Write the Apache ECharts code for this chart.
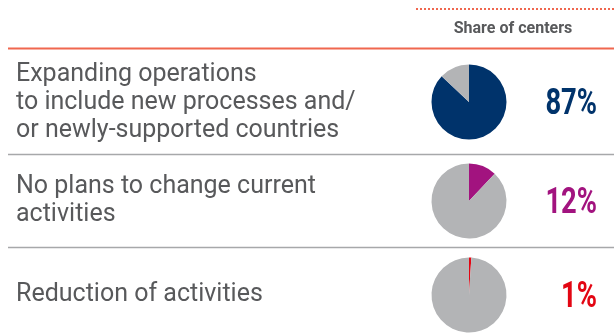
<!DOCTYPE html>
<html>
<head>
<meta charset="utf-8">
<script src="https://cdn.jsdelivr.net/npm/echarts@6/dist/echarts.min.js"></script>
<style>
  html, body { margin: 0; padding: 0; background: #fff; }
  #chart { width: 614px; height: 335px; }
</style>
</head>
<body>
<div id="chart"></div>
<script>
var header = 'Share of centers';
var labels = [
  'Expanding operations\nto include new processes and/\nor newly-supported countries',
  'No plans to change current\nactivities',
  'Reduction of activities'
];
var shares = [87, 12, 1];
var colors = ['#00336b', '#a2137f', '#e30613'];

var rest = '#b3b4b6';
var textColor = '#58595b';
var rowY = [102, 201, 295];
var textY = [103, 201, 295];
var sepY = [154, 247];

var graphic = [
  { type: 'line', shape: { x1: 416, y1: 9, x2: 614, y2: 9 },
    style: { stroke: '#f0674f', lineWidth: 2, lineDash: [2, 2] } },
  { type: 'text', x: 513, y: 29,
    style: { text: header, font: 'bold 16px Roboto', fill: textColor, align: 'center', verticalAlign: 'middle' } },
  { type: 'line', shape: { x1: 8, y1: 48.5, x2: 614, y2: 48.5 },
    style: { stroke: '#f0674f', lineWidth: 2 } }
];
sepY.forEach(function (y) {
  graphic.push({ type: 'line', shape: { x1: 8, y1: y + 0.5, x2: 614, y2: y + 0.5 },
    style: { stroke: '#a7a8aa', lineWidth: 1.5 } });
});
labels.forEach(function (t, i) {
  graphic.push({ type: 'text', x: 16, y: textY[i],
    style: { text: t, font: '25px Roboto', lineHeight: 28, fill: textColor, align: 'left', verticalAlign: 'middle' } });
  graphic.push({ type: 'text', x: 597, y: rowY[i] + 3, scaleX: 0.76,
    style: { text: shares[i] + '%', font: 'bold 36px Roboto', fill: colors[i], align: 'right', verticalAlign: 'middle' } });
});

var series = shares.map(function (v, i) {
  return {
    type: 'pie',
    center: [469, rowY[i]],
    radius: [0, 37.5],
    startAngle: 90,
    clockwise: true,
    silent: true,
    label: { show: false },
    labelLine: { show: false },
    itemStyle: { borderWidth: 0 },
    data: [
      { value: v, itemStyle: { color: colors[i] } },
      { value: 100 - v, itemStyle: { color: rest } }
    ]
  };
});

echarts.init(document.getElementById('chart'), null, { renderer: 'canvas' }).setOption({
  animation: false,
  graphic: graphic,
  series: series
});
</script>
</body>
</html>
